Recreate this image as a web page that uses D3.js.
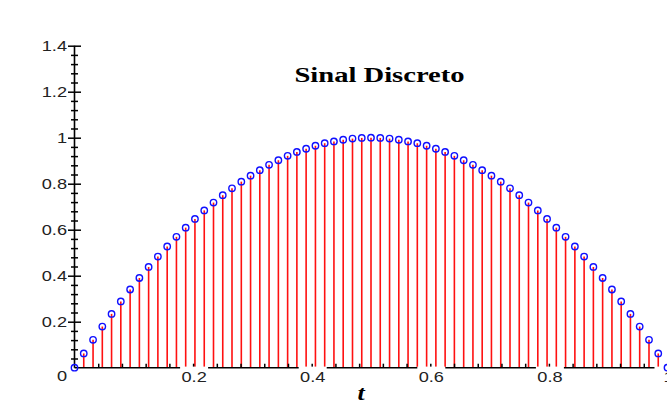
<!DOCTYPE html>
<html>
<head>
<meta charset="utf-8">
<script src="https://cdn.jsdelivr.net/npm/d3@7"></script>
<style>
  body { margin: 0; background: #fff; }
  svg { display: block; }
</style>
</head>
<body>
<div id="chart"></div>
<script>
let tValues = [
  0, 0.0156, 0.0313, 0.0469, 0.0625, 0.0781, 0.0938, 0.1094, 0.125, 0.1406,
  0.1563, 0.1719, 0.1875, 0.2031, 0.2188, 0.2344, 0.25, 0.2656, 0.2813, 0.2969,
  0.3125, 0.3281, 0.3438, 0.3594, 0.375, 0.3906, 0.4063, 0.4219, 0.4375, 0.4531,
  0.4688, 0.4844, 0.5, 0.5156, 0.5313, 0.5469, 0.5625, 0.5781, 0.5938, 0.6094,
  0.625, 0.6406, 0.6563, 0.6719, 0.6875, 0.7031, 0.7188, 0.7344, 0.75, 0.7656,
  0.7813, 0.7969, 0.8125, 0.8281, 0.8438, 0.8594, 0.875, 0.8906, 0.9063, 0.9219,
  0.9375, 0.9531, 0.9688, 0.9844, 1
]
let yValues = [
  0, 0.062, 0.121, 0.179, 0.234, 0.288, 0.34, 0.39, 0.438, 0.483,
  0.527, 0.569, 0.609, 0.647, 0.684, 0.718, 0.75, 0.78, 0.809, 0.835,
  0.859, 0.882, 0.902, 0.921, 0.938, 0.952, 0.965, 0.976, 0.984, 0.991,
  0.996, 0.999, 1, 0.999, 0.996, 0.991, 0.984, 0.976, 0.965, 0.952,
  0.938, 0.921, 0.902, 0.882, 0.859, 0.835, 0.809, 0.78, 0.75, 0.718,
  0.684, 0.647, 0.609, 0.569, 0.527, 0.483, 0.438, 0.39, 0.34, 0.288,
  0.234, 0.179, 0.121, 0.062, 0
]

let xMajor = [0.2, 0.4, 0.6, 0.8, 1]
let xMajorLabels = ["0.2", "0.4", "0.6", "0.8", "1"]
let yMajor = [0.2, 0.4, 0.6, 0.8, 1, 1.2, 1.4]
let yMajorLabels = ["0.2", "0.4", "0.6", "0.8", "1", "1.2", "1.4"]
let minorStep = 0.04

let width = 667
let height = 403

let data = tValues.map((t, i) => ({t: t, v: yValues[i]}))

let svg = d3.select("#chart")
  .append("svg")
  .attr("width", width)
  .attr("height", height)

svg.append("rect")
  .attr("width", width)
  .attr("height", height)
  .attr("fill", "#fff")

let x = d3.scaleLinear().domain([0, 1]).range([74.5, 667.5])
let y = d3.scaleLinear().domain([0, 1.4]).range([367.7, 45.7])

// minor tick positions every 0.04
let xMinor = d3.range(0, 36).map(i => +(i * minorStep).toFixed(2)).filter(d => d > 0 && d <= 1.001)
let yMinor = d3.range(0, 36).map(i => +(i * minorStep).toFixed(2)).filter(d => d > 0 && d <= 1.401)

// stems
svg.append("g")
  .selectAll("line")
  .data(data)
  .join("line")
    .attr("x1", d => x(d.t))
    .attr("x2", d => x(d.t))
    .attr("y1", y(0))
    .attr("y2", d => y(d.v))
    .attr("stroke", "#ff1010")
    .attr("stroke-width", 1.6)

// x axis
let xAxisG = svg.append("g")
  .attr("transform", `translate(0,${y(0)})`)
  .call(d3.axisBottom(x).tickValues(xMinor).tickSize(4).tickFormat(""))
xAxisG.select(".domain")
  .attr("d", `M${x(0)},0H${x(1)}`)
  .attr("stroke", "#000")
  .attr("stroke-width", 1.6)
xAxisG.selectAll(".tick line")
  .attr("y1", 0)
  .attr("y2", -4)
  .attr("stroke", "#000")
  .attr("stroke-width", 1.5)

// y axis
let yAxisG = svg.append("g")
  .attr("transform", `translate(${x(0)},0)`)
  .call(d3.axisLeft(y).tickValues(yMinor).tickFormat(""))
yAxisG.select(".domain")
  .attr("d", `M0,${y(0)}V${y(1.4)}`)
  .attr("stroke", "#000")
  .attr("stroke-width", 1.6)
yAxisG.selectAll(".tick line")
  .attr("x1", d => yMajor.some(m => Math.abs(m - d) < 1e-6) ? 6.5 : 3.5)
  .attr("x2", d => yMajor.some(m => Math.abs(m - d) < 1e-6) ? -6.5 : -3.5)
  .attr("stroke", "#000")
  .attr("stroke-width", 1.5)

// tick labels, stretched like the original
let labelFont = "'Liberation Sans', Arial, sans-serif"

let xl = svg.append("g")
xMajor.forEach((d, i) => {
  let cx = x(d) + 1
  xl.append("rect")
    .attr("x", cx - 14)
    .attr("y", 366.6)
    .attr("width", 28)
    .attr("height", 18)
    .attr("fill", "#fff")
  xl.append("text")
    .attr("transform", `translate(${cx},381.5) scale(1.3,1)`)
    .attr("text-anchor", "middle")
    .attr("font-family", labelFont)
    .attr("font-size", 14)
    .attr("fill", "#222")
    .text(xMajorLabels[i])
})

svg.append("text")
  .attr("transform", "translate(67,381) scale(1.3,1)")
  .attr("text-anchor", "end")
  .attr("font-family", labelFont)
  .attr("font-size", 14)
  .attr("fill", "#222")
  .text("0")

yMajor.forEach((d, i) => {
  svg.append("text")
    .attr("transform", `translate(67,${y(d) + 5}) scale(1.3,1)`)
    .attr("text-anchor", "end")
    .attr("font-family", labelFont)
    .attr("font-size", 14)
    .attr("fill", "#222")
    .text(yMajorLabels[i])
})

// circles on top of the stems
svg.append("g")
  .selectAll("circle")
  .data(data)
  .join("circle")
    .attr("cx", d => x(d.t))
    .attr("cy", d => y(d.v))
    .attr("r", 3.2)
    .attr("fill", "none")
    .attr("stroke", "#1010ff")
    .attr("stroke-width", 1.4)

// title and axis label
svg.append("text")
  .attr("transform", "translate(379.5,81.7) scale(1.3,1)")
  .attr("text-anchor", "middle")
  .attr("font-family", "'Liberation Serif', 'Times New Roman', serif")
  .attr("font-weight", "bold")
  .attr("font-size", 22)
  .attr("fill", "#000")
  .text("Sinal Discreto")

svg.append("text")
  .attr("transform", "translate(361,400) scale(1.3,1)")
  .attr("text-anchor", "middle")
  .attr("font-family", "'Liberation Serif', 'Times New Roman', serif")
  .attr("font-weight", "bold")
  .attr("font-style", "italic")
  .attr("font-size", 20)
  .attr("fill", "#000")
  .text("t")
</script>
</body>
</html>
